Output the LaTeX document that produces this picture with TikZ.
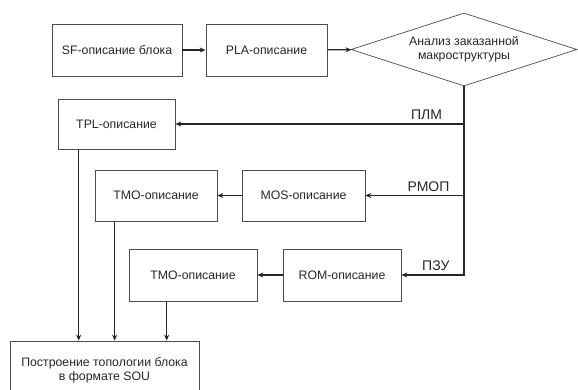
\documentclass[tikz,border=0pt]{standalone}
\usepackage{fontspec}
\setmainfont{Liberation Sans}
\usetikzlibrary{arrows.meta,shapes.geometric}

\begin{document}
\begin{tikzpicture}
        [x=1pt, y=-1pt,
         box/.style={draw=black!70, line width=0.7pt, inner sep=0pt, align=center,
                     text=black!85, font=\fontsize{12.3}{14}\selectfont},
         choice/.style={box, shape=diamond, shape aspect=3},
         lbl/.style={text=black!85, font=\fontsize{14}{16}\selectfont},
         post/.style={-{Stealth[length=6pt, width=5pt]}, line width=1.2pt, black!85}]

        \useasboundingbox (0,0) rectangle (578,390);

        % top row
        \node[box, minimum width=130, minimum height=52] (sf) at (117,50) {SF-описание блока};
        \node[box, minimum width=121, minimum height=52] (pla) at (266.5,50) {PLA-описание};
        \node[choice, minimum width=226, minimum height=73] (analysis) at (464,49.5)
                {Анализ заказанной\\макроструктуры};

        % macro branches
        \node[box, minimum width=117, minimum height=50] (tpl) at (116.5,124) {TPL-описание};
        \node[box, minimum width=123, minimum height=51] (mos) at (303.5,195.5) {MOS-описание};
        \node[box, minimum width=122, minimum height=51] (tmo mos) at (156,195.5) {TMO-описание};
        \node[box, minimum width=118, minimum height=52] (rom) at (342,275) {ROM-описание};
        \node[box, minimum width=128, minimum height=52] (tmo rom) at (193,275) {TMO-описание};

        \node[box, minimum width=189, minimum height=59] (sou) at (104.5,370.5)
                {Построение топологии блока\\в формате SOU};

        \draw[post] (sf) -- (pla);
        \draw[post] (pla) -- (analysis);

        \coordinate (plm) at (analysis.south |- tpl.east);
        \coordinate (rmop) at (analysis.south |- mos.east);
        \coordinate (pzu) at (analysis.south |- rom.east);
        \draw[post] (analysis.south) -- (pzu) -- node[lbl, above, pos=0.45] {ПЗУ} (rom.east);
        \draw[post] (plm) -- node[lbl, above, pos=0.13] {ПЛМ} (tpl.east);
        \draw[post] (rmop) -- node[lbl, above, pos=0.36] {РМОП} (mos.east);

        \draw[post] (mos) -- (tmo mos);
        \draw[post] (rom) -- (tmo rom);

        % to the layout
        \path (tpl.south west) ++(21,0) coordinate (drop tpl);
        \path (tmo mos.south west) ++(20,0) coordinate (drop mos);
        \path (tmo rom.south west) ++(38,0) coordinate (drop rom);
        \draw[post] (drop tpl) -- (drop tpl |- sou.north);
        \draw[post] (drop mos) -- (drop mos |- sou.north);
        \draw[post] (drop rom) -- (drop rom |- sou.north);
\end{tikzpicture}
\end{document}
